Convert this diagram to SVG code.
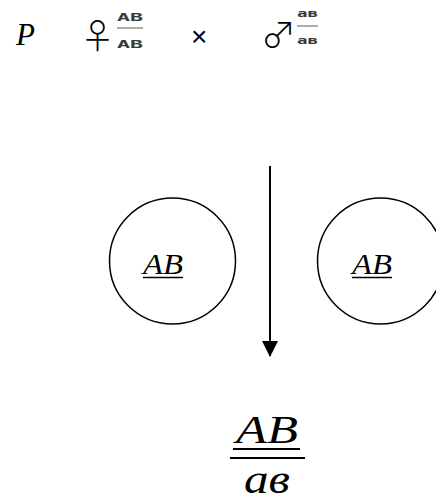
<svg xmlns="http://www.w3.org/2000/svg" width="436" height="502" viewBox="0 0 436 502">
<style>
.it{font-family:"Liberation Serif","Times New Roman",serif;font-style:italic;fill:#000}
.sm{font-family:"DejaVu Sans Mono","Liberation Mono",monospace;font-weight:bold;font-size:11px;fill:#3a3a3a}
.sym{font-family:"Noto Sans CJK JP","DejaVu Sans",sans-serif;font-weight:300;fill:#000}
.ln{stroke:#000;fill:none}
</style>
<defs>
<marker id="ah" markerWidth="16" markerHeight="16" refX="15" refY="8" orient="auto" markerUnits="userSpaceOnUse" viewBox="0 0 16 16">
<path d="M0,0 L16,8 L0,16 Z" fill="#000"/>
</marker>
</defs>
<g id="parents">
<text class="it" x="16" y="45" font-size="31">P</text>
<text class="sym" x="80" y="49" font-size="35">♀</text>
<text class="sm" x="117" y="21" textLength="26" lengthAdjust="spacingAndGlyphs">AB</text>
<line x1="117" y1="28" x2="143" y2="28" stroke="#777" stroke-width="1.2"/>
<text class="sm" x="117" y="48" textLength="26" lengthAdjust="spacingAndGlyphs">AB</text>
<text x="191" y="46" font-family="Liberation Sans, sans-serif" font-size="28" fill="#000">×</text>
<text class="sym" x="261" y="48" font-size="35">♂</text>
<text class="sm" x="297" y="17" textLength="21" lengthAdjust="spacingAndGlyphs">ав</text>
<line x1="297" y1="26" x2="318" y2="26" stroke="#777" stroke-width="1.2"/>
<text class="sm" x="297" y="44" textLength="21" lengthAdjust="spacingAndGlyphs">ав</text>
</g>
<g id="gamete-left">
<circle class="ln" cx="172.5" cy="261" r="63" stroke-width="1.5"/>
<text class="it" x="143" y="274" font-size="30" textLength="40" lengthAdjust="spacingAndGlyphs">AB</text>
<line x1="143" y1="277.5" x2="183" y2="277.5" stroke="#000" stroke-width="1.5"/>
</g>
<g id="gamete-right">
<circle class="ln" cx="380.5" cy="261" r="63" stroke-width="1.5"/>
<text class="it" x="352" y="274" font-size="30" textLength="40" lengthAdjust="spacingAndGlyphs">AB</text>
<line x1="352" y1="277.5" x2="392" y2="277.5" stroke="#000" stroke-width="1.5"/>
</g>
<g id="offspring">
<text class="it" x="236" y="443" font-size="40" textLength="62" lengthAdjust="spacingAndGlyphs">AB</text>
<line x1="233" y1="449" x2="300" y2="449" stroke="#000" stroke-width="2"/>
<line x1="230" y1="458" x2="305" y2="458" stroke="#000" stroke-width="2"/>
<text class="it" x="244" y="493" font-size="40" textLength="46" lengthAdjust="spacingAndGlyphs">ав</text>
</g>
<g id="connectors">
<line class="ln" x1="270" y1="166" x2="270" y2="356" stroke-width="2" marker-end="url(#ah)"/>
</g>
</svg>
